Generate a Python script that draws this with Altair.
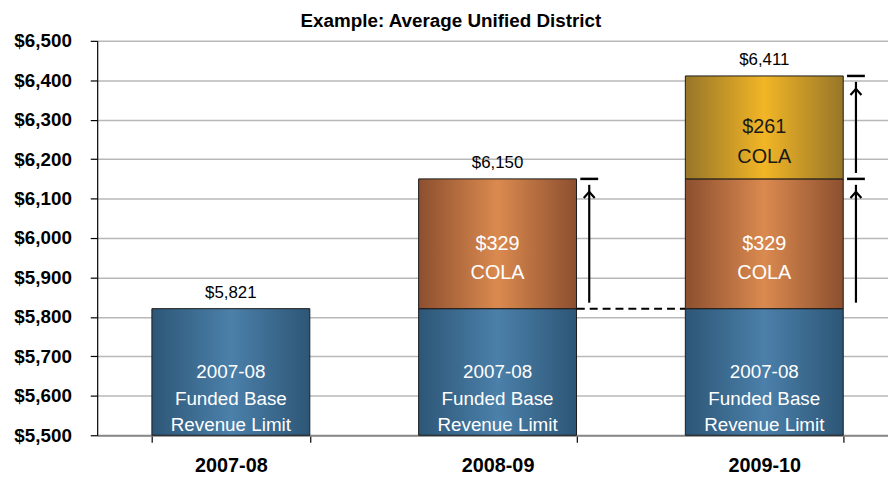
import altair as alt
import pandas as pd

years = ["2007-08", "2008-09", "2009-10"]
base = [5821, 5821, 5821]
cola_0809 = [0, 329, 329]
cola_0910 = [0, 0, 261]
totals = [5821, 6150, 6411]
base_label = "2007-08\nFunded Base\nRevenue Limit"
y_ticks = [5500, 5600, 5700, 5800, 5900, 6000, 6100, 6200, 6300, 6400, 6500]

FONT = "Liberation Sans"

rows = []
for i, yr in enumerate(years):
    rows.append(dict(year=yr, seg="base", start=5500, end=base[i], label=base_label))
    if cola_0809[i] > 0:
        rows.append(dict(year=yr, seg="cola1", start=base[i], end=base[i] + cola_0809[i],
                         label=f"${cola_0809[i]}\nCOLA"))
    if cola_0910[i] > 0:
        s = base[i] + cola_0809[i]
        rows.append(dict(year=yr, seg="cola2", start=s, end=s + cola_0910[i],
                         label=f"${cola_0910[i]}\nCOLA"))
seg_df = pd.DataFrame(rows)
seg_df["mid"] = (seg_df["start"] + seg_df["end"]) / 2

tot_df = pd.DataFrame({"year": years, "total": totals,
                       "label": [f"${t:,}" for t in totals]})

arrow_rows = [r for r in rows if r["seg"] != "base"]
arrow_df = pd.DataFrame(arrow_rows)

dash_df = pd.DataFrame({"x1": [years[1]], "x2": [years[2]], "y": [base[1]]})

x_scale = alt.Scale(domain=years, paddingInner=0.408, paddingOuter=0.1865, align=0.55)
y_scale = alt.Scale(domain=[5500, 6500], nice=False, zero=False)

X_AXIS = alt.Axis(title=None, labelAngle=0, tickBand="extent",
                  labelFont=FONT, labelFontSize=20, labelFontWeight="bold",
                  labelColor="black", domainColor="#888888", domainWidth=2,
                  tickColor="black", tickSize=7, tickWidth=1.2, labelPadding=14)
Y_AXIS = alt.Axis(title=None, values=y_ticks, format="$,d", labelOverlap=False,
                  labelFont=FONT, labelFontSize=19, labelFontWeight="bold",
                  labelColor="black", domainColor="black", domainWidth=1.2,
                  tickColor="black", tickSize=7, tickWidth=1.2, labelPadding=19,
                  gridColor="#b8b8b8", gridWidth=1.5)


def xenc(field="year"):
    return alt.X(f"{field}:N", scale=x_scale, sort=years, axis=X_AXIS)


def yenc(field):
    return alt.Y(f"{field}:Q", scale=y_scale, axis=Y_AXIS)


def grad(edge, mid):
    return alt.Gradient(
        gradient="linear",
        stops=[alt.GradientStop(color=edge, offset=0),
               alt.GradientStop(color=mid, offset=0.5),
               alt.GradientStop(color=edge, offset=1)],
        x1=0, x2=1, y1=0, y2=0)


fills = {
    "base": grad("#2d5676", "#4b80aa"),
    "cola1": grad("#8c4f2f", "#db8a4f"),
    "cola2": grad("#977629", "#f2b526"),
}
text_colors = {"base": "white", "cola1": "white", "cola2": "#1a1a1a"}
text_sizes = {"base": 19, "cola1": 20, "cola2": 20}
line_heights = {"base": 27, "cola1": 30, "cola2": 30}

base_chart = alt.Chart(seg_df)
layers = []
for seg in ["base", "cola1", "cola2"]:
    layers.append(
        base_chart.transform_filter(alt.datum.seg == seg)
        .mark_bar(fill=fills[seg], stroke="#1a1a1a", strokeWidth=1)
        .encode(x=xenc(), y=yenc("start"), y2="end:Q")
    )
for seg in ["base", "cola1", "cola2"]:
    layers.append(
        base_chart.transform_filter(alt.datum.seg == seg)
        .mark_text(font=FONT, fontSize=text_sizes[seg], lineBreak="\n",
                   lineHeight=line_heights[seg],
                   color=text_colors[seg], baseline="middle", align="center")
        .encode(x=xenc(), y=yenc("mid"), text="label:N")
    )

totals_text = alt.Chart(tot_df).mark_text(
    font=FONT, fontSize=17, color="black", baseline="bottom", dy=-7
).encode(x=xenc(), y=yenc("total"), text="label:N")

ARROW_DX = 92.5
arrow_shaft = alt.Chart(arrow_df).mark_rule(
    color="black", strokeWidth=2.2, xOffset=ARROW_DX, yOffset=-6, y2Offset=6
).encode(x=xenc(), y=yenc("start"), y2="end:Q")
arrow_head = alt.Chart(arrow_df).mark_point(
    shape="M-0.8,0.9 L0,0 L0.8,0.9", filled=False, stroke="black", strokeWidth=2.2,
    size=190, opacity=1, xOffset=ARROW_DX, yOffset=13
).encode(x=xenc(), y=yenc("end"))
arrow_cap = alt.Chart(arrow_df).mark_tick(
    color="black", thickness=2.5, size=18, opacity=1, xOffset=ARROW_DX
).encode(x=xenc(), y=yenc("end"))

dash = alt.Chart(dash_df).mark_rule(
    color="black", strokeWidth=2, strokeDash=[8, 5], xOffset=80, x2Offset=-80
).encode(x=xenc("x1"), x2="x2:N", y=yenc("y"))

chart = alt.layer(*layers, totals_text, arrow_shaft, arrow_head, arrow_cap, dash).properties(
    width=888, height=398,
    autosize=alt.AutoSizeParams(type="fit-x", contains="padding"),
    title=alt.TitleParams("Example: Average Unified District", font=FONT, fontSize=19,
                          fontWeight="bold", color="black", anchor="middle",
                          frame="bounds", offset=1),
    padding={"left": 5, "right": 0, "top": 2, "bottom": 0},
).configure_view(stroke=None)

chart.save("out.html", embed_options={"renderer": "svg", "actions": False})
